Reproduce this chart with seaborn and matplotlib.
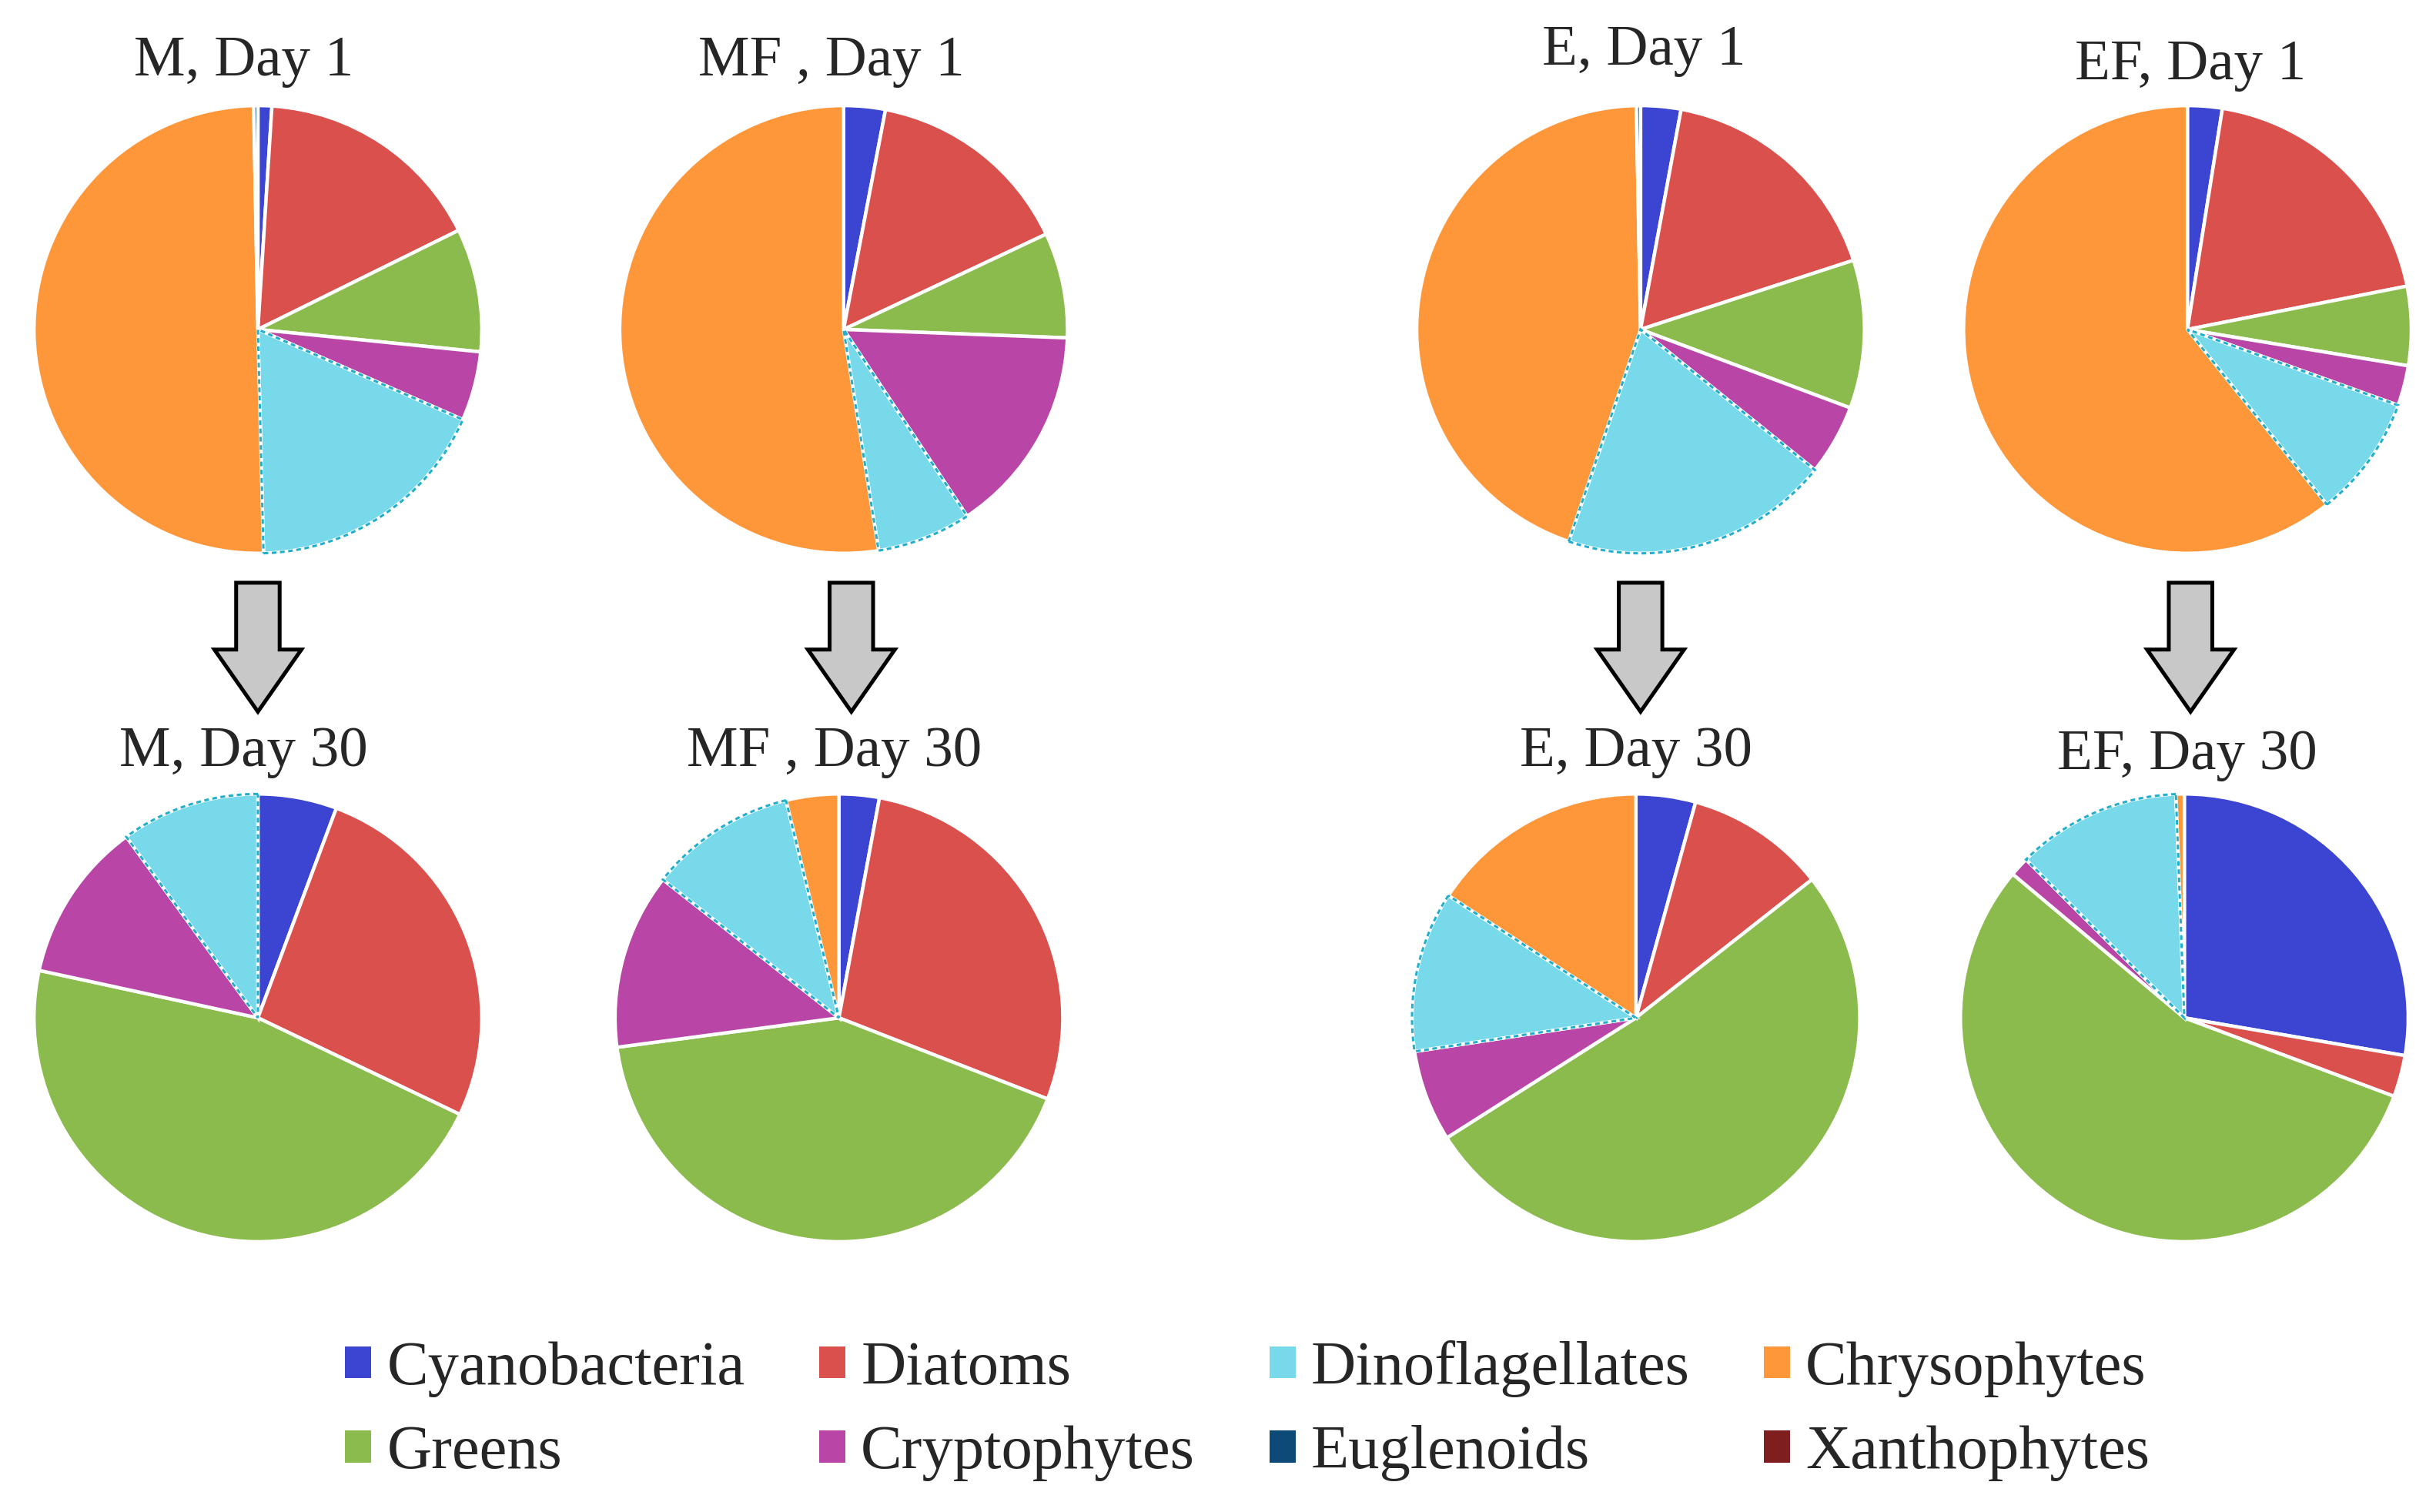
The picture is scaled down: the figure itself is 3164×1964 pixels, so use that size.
import numpy as np
import pandas as pd
import matplotlib
matplotlib.use("Agg")
import matplotlib.pyplot as plt
from matplotlib import font_manager
from matplotlib.patches import Patch, FancyArrow
import seaborn as sns

# --- data: percent share of each algal group, clockwise from 12 o'clock ---
groups = ["Cyanobacteria", "Diatoms", "Greens", "Cryptophytes",
          "Dinoflagellates", "Chrysophytes", "Euglenoids", "Xanthophytes"]

m_day1 = [1.0, 16.7, 8.9, 5.0, 18.0, 50.1, 0.3, 0.0]
mf_day1 = [3.0, 15.0, 7.6, 15.1, 6.8, 52.5, 0.0, 0.0]
e_day1 = [2.9, 17.1, 10.7, 5.1, 19.4, 44.5, 0.3, 0.0]
ef_day1 = [2.5, 19.4, 5.7, 2.9, 8.8, 60.7, 0.0, 0.0]
m_day30 = [5.7, 26.4, 46.3, 11.6, 10.0, 0.0, 0.0, 0.0]
mf_day30 = [2.9, 28.0, 42.0, 12.7, 10.6, 3.8, 0.0, 0.0]
e_day30 = [4.3, 10.1, 51.6, 6.6, 11.6, 15.8, 0.0, 0.0]
ef_day30 = [27.7, 3.0, 55.4, 1.4, 11.9, 0.6, 0.0, 0.0]

titles_day1 = ["M, Day 1", "MF , Day 1", "E, Day 1", "EF, Day 1"]
titles_day30 = ["M, Day 30", "MF , Day 30", "E, Day 30", "EF, Day 30"]

df = pd.DataFrame({
    "M1": m_day1, "MF1": mf_day1, "E1": e_day1, "EF1": ef_day1,
    "M30": m_day30, "MF30": mf_day30, "E30": e_day30, "EF30": ef_day30,
}, index=groups)

# --- style ---
sns.set_theme(style="white")
installed = {f.name for f in font_manager.fontManager.ttflist}
serif = [f for f in ["Liberation Serif", "Times New Roman", "DejaVu Serif"] if f in installed]
plt.rcParams["font.family"] = "serif"
plt.rcParams["font.serif"] = serif + ["DejaVu Serif"]
palette = sns.color_palette(["#3B45D1", "#DA504D", "#8BBB4C", "#B946A6",
                             "#77D9EA", "#FE963A", "#0D4A78", "#7E1E1E"])
dino_edge = "#22AFCB"

# layout in a 1568 x 973 reference grid (scaled to figure)
W, H = 1568.0, 973.0
R = 147.0
pie_x_top = [166, 543, 1056, 1408]
pie_x_bot = [166, 540, 1053, 1406]
pie_y_top, pie_y_bot = 212, 655
title_pos_top = [(157, 40), (535, 40), (1058, 33), (1410, 42)]
title_pos_bot = [(157, 484), (537, 484), (1053, 484), (1408, 486)]
arrow_x = [166, 548, 1056, 1410]

fig = plt.figure(figsize=(15.82, 9.82), dpi=200)

# overlay axis for the arrows
ov = fig.add_axes([0, 0, 1, 1])
ov.set_xlim(0, W)
ov.set_ylim(H, 0)
ov.axis("off")
for ax_ in arrow_x:
    ov.add_patch(FancyArrow(ax_, 375, 0, 83, width=28, head_width=56,
                            head_length=40, length_includes_head=True,
                            fc="#C8C8C8", ec="black", lw=1.8))


def draw_pie(cx, cy, values):
    ax = fig.add_axes([(cx - R) / W, 1 - (cy + R) / H, 2 * R / W, 2 * R / H])
    wedges, _ = ax.pie(values, colors=palette, startangle=90, counterclock=False,
                       radius=1.0,
                       wedgeprops={"edgecolor": "white", "linewidth": 1.6})
    for w, v in zip(wedges, values):
        if v == 0:
            w.set_visible(False)
    # dotted outline on the dinoflagellate wedge
    outl, _ = ax.pie(values, startangle=90, counterclock=False, radius=1.0,
                     wedgeprops={"fill": False, "edgecolor": dino_edge,
                                 "linewidth": 1.1, "linestyle": (0, (2, 1.5))})
    for i, w in enumerate(outl):
        w.set_visible(groups[i] == "Dinoflagellates" and values[i] > 0)
    ax.set_xlim(-1.02, 1.02)
    ax.set_ylim(-1.02, 1.02)
    ax.set_aspect("equal")
    ax.axis("off")


cols_top = ["M1", "MF1", "E1", "EF1"]
cols_bot = ["M30", "MF30", "E30", "EF30"]
for i in range(4):
    draw_pie(pie_x_top[i], pie_y_top, df[cols_top[i]].values)
    draw_pie(pie_x_bot[i], pie_y_bot, df[cols_bot[i]].values)
    tx, ty = title_pos_top[i]
    fig.text(tx / W, 1 - ty / H, titles_day1[i], ha="center", va="center", fontsize=27)
    tx, ty = title_pos_bot[i]
    fig.text(tx / W, 1 - ty / H, titles_day30[i], ha="center", va="center", fontsize=27)

# legend, filled row-wise (matplotlib fills column-wise)
order = ["Cyanobacteria", "Greens", "Diatoms", "Cryptophytes",
         "Dinoflagellates", "Euglenoids", "Chrysophytes", "Xanthophytes"]
handles = [Patch(facecolor=palette[groups.index(g)], edgecolor="none", label=g)
           for g in order]
fig.legend(handles=handles, loc="center", bbox_to_anchor=(803 / W, 1 - 908 / H),
           ncol=4, frameon=False, fontsize=29, handlelength=0.42, handleheight=0.42,
           handletextpad=0.25, columnspacing=1.2, labelspacing=0.45)

fig.savefig("out.png", dpi=200)
